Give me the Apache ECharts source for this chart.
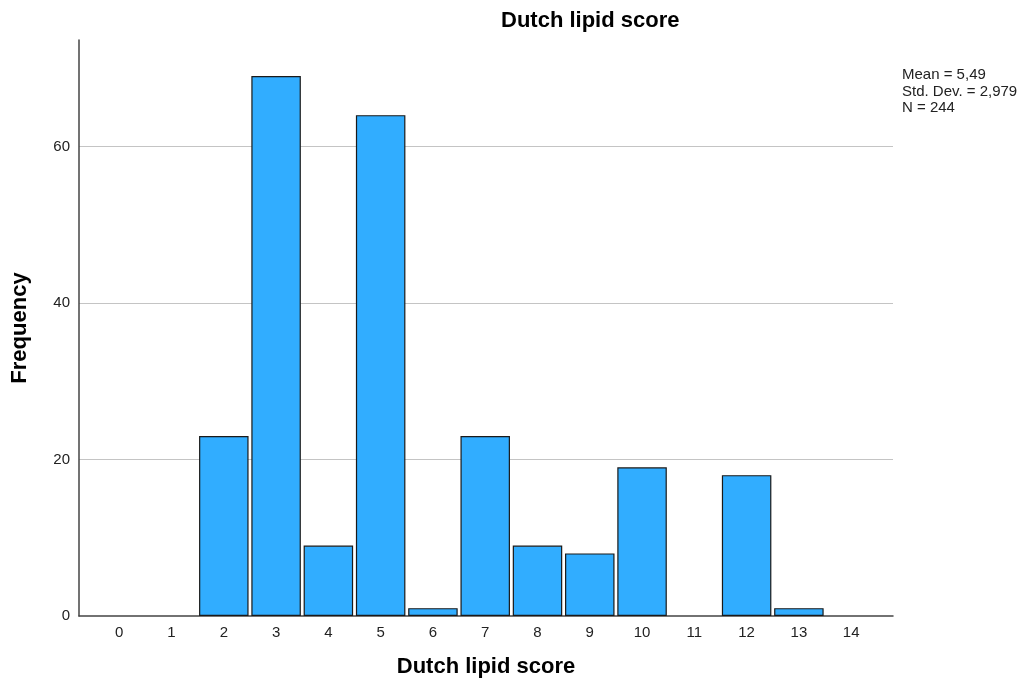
<!DOCTYPE html>
<html>
<head>
<meta charset="utf-8">
<script src="https://cdn.jsdelivr.net/npm/echarts@6/dist/echarts.min.js"></script>
<style>
html,body{margin:0;padding:0;background:#fff;}
#chart{width:1024px;height:686px;}
</style>
</head>
<body>
<div id="chart"></div>
<script>
const scores = [0,1,2,3,4,5,6,7,8,9,10,11,12,13,14];
const frequencies = [0,0,23,69,9,64,1,23,9,8,19,0,18,1,0];
const yTicks = [0,20,40,60];
const statLines = ['Mean = 5,49','Std. Dev. = 2,979','N = 244'];
const titleText = 'Dutch lipid score';
const xName = 'Dutch lipid score';
const yName = 'Frequency';

const FONT = '"Liberation Sans", Arial, sans-serif';
const chart = echarts.init(document.getElementById('chart'), null, {renderer:'canvas'});

const barData = scores.map((s,i)=>[s, frequencies[i]]).filter(d=>d[1]>0);

chart.setOption({
  animation:false,
  backgroundColor:'#fff',
  grid:{left:79, right:131, top:40, bottom:70, containLabel:false},
  xAxis:{
    type:'value', min:-0.77, max:14.8,
    name:xName, nameLocation:'middle', nameGap:40,
    nameTextStyle:{fontFamily:FONT, fontSize:22, fontWeight:'bold', color:'#000'},
    axisLine:{show:true, onZero:false, lineStyle:{color:'#444', width:1.5}},
    axisTick:{show:false},
    splitLine:{show:false},
    axisLabel:{
      fontFamily:FONT, fontSize:15, color:'#222', margin:9,
      customValues:scores,
      formatter:function(v){ return String(v); }
    }
  },
  yAxis:{
    type:'value', min:0, max:73.6, interval:20,
    name:yName, nameLocation:'middle', nameGap:48, nameRotate:90,
    nameTextStyle:{fontFamily:FONT, fontSize:22, fontWeight:'bold', color:'#000'},
    axisLine:{show:true, onZero:false, lineStyle:{color:'#444', width:1.5}},
    axisTick:{show:false},
    splitLine:{show:true, showMinLine:false, showMaxLine:false, lineStyle:{color:'#c4c4c4', width:1}},
    axisLabel:{
      fontFamily:FONT, fontSize:15, color:'#222', margin:9,
      showMaxLabel:false,
      formatter:function(v){ return yTicks.indexOf(v)>=0 ? String(v) : ''; }
    }
  },
  graphic:[
    {type:'text', left:501, top:10, style:{text:titleText, fontFamily:FONT, fontSize:22, fontWeight:'bold', fill:'#000'}},
    {type:'text', left:902, top:67, style:{text:statLines.join('\n'), fontFamily:FONT, fontSize:15, lineHeight:16.5, fill:'#222'}}
  ],
  series:[{
    type:'bar',
    data:barData,
    barWidth:49.5,
    itemStyle:{color:'#31adff', borderColor:'#1a1a1a', borderWidth:1.2},
    z:3
  }]
});
</script>
</body>
</html>
